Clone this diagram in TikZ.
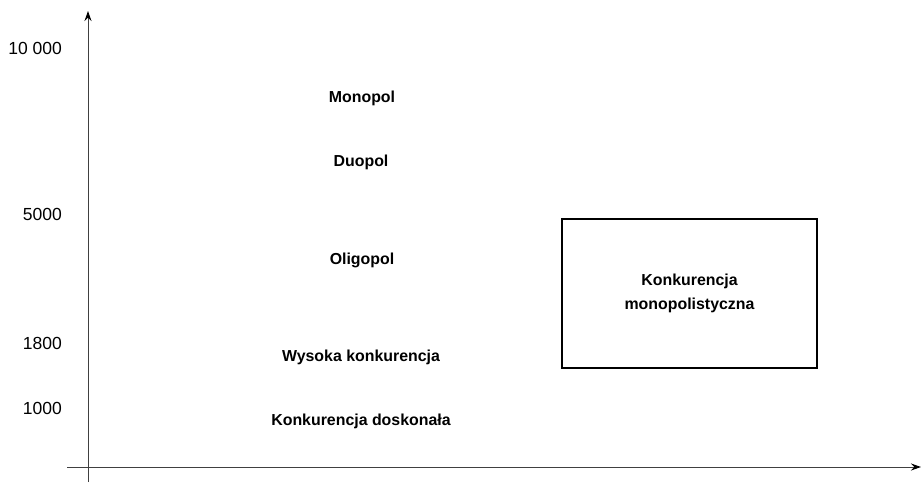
\documentclass[tikz,border=0pt]{standalone}
\usepackage{fontspec}
\setmainfont{Liberation Sans}
\usetikzlibrary{arrows.meta}
\begin{document}
\begin{tikzpicture}[x=1pt,y=-1pt,
  axis/.style={draw=black!75,line width=1pt,-{Stealth[length=10pt,width=7pt,color=black]}},
  lab/.style={font=\bfseries\fontsize{15.9}{18}\selectfont,inner sep=0pt},
  tick/.style={font=\fontsize{17.5}{20}\selectfont,inner sep=0pt,anchor=east},
  boxst/.style={draw=black,line width=2pt,minimum width=255pt,minimum height=149pt,inner sep=0pt,
    font=\bfseries\fontsize{15.9}{24}\selectfont,align=center}]
\useasboundingbox (0,0) rectangle (921,482);
\coordinate (ybot) at (88,482);
\coordinate (ytop) at (88,11);
\coordinate (xl) at (67,467);
\coordinate (xr) at (921,467);
\draw[axis] (ybot) -- (ytop);
\draw[axis] (xl) -- (xr);
\node[tick] (t1) at (62,48) {10 000};
\node[tick] (t2) at (62,214) {5000};
\node[tick] (t3) at (62,343) {1800};
\node[tick] (t4) at (62,408) {1000};
\node[lab] (mono) at (362,98.5) {Monopol};
\node[lab] (duo) at (361,162.5) {Duopol};
\node[lab] (oli) at (362,260.5) {Oligopol};
\node[lab] (wys) at (361,357.5) {Wysoka konkurencja};
\node[lab] (dosk) at (361,421.5) {Konkurencja doskonała};
\node[boxst] (km) at (689.5,293.5) {Konkurencja\\monopolistyczna};
\end{tikzpicture}
\end{document}
